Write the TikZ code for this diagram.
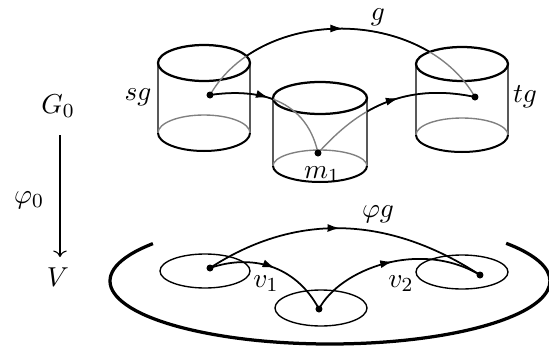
\documentclass[tikz,border=0pt]{standalone}
\usetikzlibrary{arrows.meta,decorations.markings}
\begin{document}
\begin{tikzpicture}[x=0.4pt,y=0.4pt,
  lbl/.style={anchor=base, inner sep=0pt, font=\fontsize{10.8}{12}\selectfont},
  dotnode/.style={circle, fill=black, inner sep=0pt, minimum size=2.8pt},
  rim/.style={line width=0.9pt},
  side/.style={line width=0.5pt, black!65},
  backarc/.style={line width=0.55pt, black!50},
  frontarc/.style={line width=0.8pt},
  curve/.style={line width=0.7pt},
  hidden/.style={line width=0.55pt, black!50},
  midarrow/.style={decoration={markings, mark=at position #1 with {\arrow{Latex[length=5pt,width=3.2pt]}}}, postaction={decorate}},
  thinell/.style={line width=0.55pt},
  big/.style={line width=1.3pt}
]
\useasboundingbox (0,0) rectangle (549,349);

% cylinders
\foreach \cx/\ct/\cb/\rx/\ry in {204/286/216/46/18, 320/251/183/47/16, 462/285/214/46/17}{
  \draw[side] (\cx-\rx,\ct) -- (\cx-\rx,\cb);
  \draw[side] (\cx+\rx,\ct) -- (\cx+\rx,\cb);
  \draw[backarc] (\cx+\rx,\cb) arc[start angle=0,end angle=180,x radius=\rx,y radius=\ry];
  \draw[frontarc] (\cx-\rx,\cb) arc[start angle=180,end angle=360,x radius=\rx,y radius=\ry];
  \draw[rim] (\cx,\ct) ellipse[x radius=\rx,y radius=\ry];
}

\coordinate (sgc) at (210,254);
\coordinate (m1c) at (318,196);
\coordinate (tgc) at (475,252);

% g
\draw[hidden] (sgc) to[out=60,in=120] (tgc);
\begin{scope}
  \clip (-10,-10) -- (560,-10) -- (560,360) -- (-10,360) -- cycle
    (158,286) arc[start angle=180,end angle=0,x radius=46,y radius=18] -- (250,216) arc[start angle=0,end angle=-180,x radius=46,y radius=18] -- cycle
    (416,285) arc[start angle=180,end angle=0,x radius=46,y radius=17] -- (508,214) arc[start angle=0,end angle=-180,x radius=46,y radius=17] -- cycle;
  \draw[curve] (sgc) to[out=60,in=120] (tgc);
\end{scope}
\path[midarrow=0.5] (sgc) to[out=60,in=120] (tgc);

% sg -> m1 and m1 -> tg
\draw[hidden] (sgc) .. controls (250,260) and (305,255) .. (m1c);
\draw[hidden] (m1c) .. controls (345,225) and (390,270) .. (tgc);
\begin{scope}
  \clip (-10,-10) -- (560,-10) -- (560,360) -- (-10,360) -- cycle
    (273,251) arc[start angle=180,end angle=0,x radius=47,y radius=16] -- (367,183) arc[start angle=0,end angle=-180,x radius=47,y radius=16] -- cycle;
  \draw[curve] (sgc) .. controls (250,260) and (305,255) .. (m1c);
  \draw[curve] (m1c) .. controls (345,225) and (390,270) .. (tgc);
\end{scope}
\path[midarrow=0.43] (sgc) .. controls (250,260) and (305,255) .. (m1c);
\path[midarrow=0.56] (m1c) .. controls (345,225) and (390,270) .. (tgc);

\node[dotnode] (sgd) at (sgc) {};
\node[dotnode] (m1d) at (m1c) {};
\node[dotnode] (tgd) at (tgc) {};

% bottom
\draw[big] (330,68) ++(143.6:220 and 63) arc[start angle=143.6,end angle=396.8,x radius=220,y radius=63];
\draw[thinell] (205,78) ellipse[x radius=45,y radius=17];
\draw[thinell] (321,41) ellipse[x radius=46,y radius=18];
\draw[thinell] (462,77) ellipse[x radius=46,y radius=17];

\node[dotnode] (ad) at (210,81) {};
\node[dotnode] (bd) at (319,40) {};
\node[dotnode] (cd) at (480,74) {};

\draw[curve, midarrow=0.48] (ad.center) to[out=33,in=147] (cd.center);
\draw[curve, midarrow=0.52] (ad.center) .. controls (250,95) and (295,85) .. (bd.center);
\draw[curve, midarrow=0.5] (bd.center) .. controls (340,80) and (420,110) .. (cd.center);

% left arrow
\node[lbl] (G0) at (58,236) {$G_0$};
\node[lbl] (V) at (58,63) {$V$};
\node[lbl] (phi0) at (29,146) {$\varphi_0$};
\draw[line width=0.45pt, ->] (60,214) coordinate (fa) -- (60,92) coordinate (fb);

% labels
\node[lbl] (gl) at (378,329) {$g$};
\node[lbl] (sgl) at (138,249) {$sg$};
\node[lbl] (tgl) at (525,247) {$tg$};
\node[lbl] (m1l) at (322,171) {$m_1$};
\node[lbl] (phigl) at (378,132) {$\varphi g$};
\node[lbl] (v1l) at (266,62) {$v_1$};
\node[lbl] (v2l) at (401,62) {$v_2$};
\end{tikzpicture}
\end{document}
